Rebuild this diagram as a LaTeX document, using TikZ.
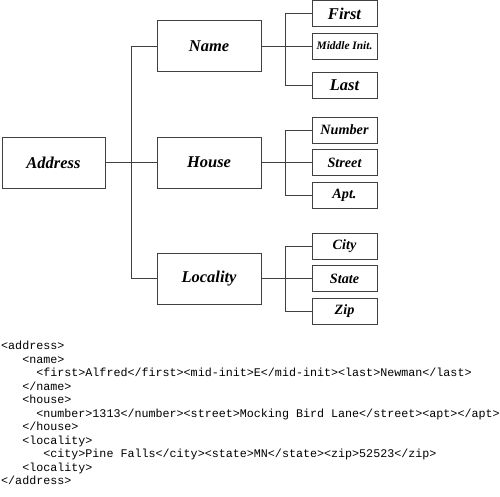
\documentclass[tikz,border=0pt]{standalone}
\usepackage{fontspec}
\setmainfont{Liberation Serif}
\setmonofont{Liberation Mono}
\begin{document}
\begin{tikzpicture}[x=1pt,y=-1pt,
  box/.style={draw=black!75, line width=0.8pt, inner sep=0pt, font=\bfseries\itshape},
  mainbox/.style={box, minimum width=104pt, minimum height=51pt, font=\bfseries\itshape\fontsize{16.5}{18}\selectfont},
  leafbox/.style={box, minimum width=65pt, minimum height=26pt},
  bigleaf/.style={leafbox, font=\bfseries\itshape\fontsize{16.5}{18}\selectfont},
  smallleaf/.style={leafbox, font=\bfseries\itshape\fontsize{14.2}{16}\selectfont},
  ln/.style={draw=black!75, line width=0.8pt},
  code/.style={anchor=base west, inner sep=0pt, font=\ttfamily\fontsize{11.7}{13.5}\selectfont}]
\useasboundingbox (0,0) rectangle (500,497);

% level 0 and 1
\node[mainbox, minimum width=103pt] (addr) at (53.5,162.5) {Address};
\node[mainbox] (name) at (209,46) {Name};
\node[mainbox] (house) at (209,162.5) {House};
\node[mainbox] (loc) at (209,278.5) {Locality};

% leaves
\node[bigleaf] (first) at (344.5,13.5) {First};
\node[leafbox, font=\bfseries\itshape\fontsize{11.4}{13}\selectfont] (mid) at (344.5,46) {Middle Init.};
\node[bigleaf] (last) at (344.5,85) {Last};
\node[smallleaf] (number) at (344.5,130) {Number};
\node[smallleaf] (street) at (344.5,162.5) {Street};
\node[smallleaf] (apt) at (344.5,195) {Apt.};
\node[smallleaf] (city) at (344.5,246) {City};
\node[smallleaf] (state) at (344.5,278.5) {State};
\node[smallleaf] (zip) at (344.5,311) {Zip};

% connectors
\draw[ln] (addr.east) -- (house.west);
\draw[ln] (name.west) -- ++(-25,0) |- (loc.west);
\draw[ln] (name.east) -- (mid.west);
\draw[ln] (first.west) -- ++(-26,0) |- (last.west);
\draw[ln] (house.east) -- (street.west);
\draw[ln] (number.west) -- ++(-26,0) |- (apt.west);
\draw[ln] (loc.east) -- (state.west);
\draw[ln] (city.west) -- ++(-26,0) |- (zip.west);

% code listing
\node[code] (c1) at (1,349.5) {<address>};
\node[code] (c2) at (1,363) {\phantom{xxx}<name>};
\node[code] (c3) at (1,376.5) {\phantom{xxxxx}<first>Alfred</first><mid-init>E</mid-init><last>Newman</last>};
\node[code] (c4) at (1,390) {\phantom{xxx}</name>};
\node[code] (c5) at (1,403.5) {\phantom{xxx}<house>};
\node[code] (c6) at (1,417) {\phantom{xxxxx}<number>1313</number><street>Mocking Bird Lane</street><apt></apt>};
\node[code] (c7) at (1,430.5) {\phantom{xxx}</house>};
\node[code] (c8) at (1,444) {\phantom{xxx}<locality>};
\node[code] (c9) at (1,457.5) {\phantom{xxxxxx}<city>Pine Falls</city><state>MN</state><zip>52523</zip>};
\node[code] (c10) at (1,471) {\phantom{xxx}<locality>};
\node[code] (c11) at (1,484.5) {</address>};
\end{tikzpicture}
\end{document}
